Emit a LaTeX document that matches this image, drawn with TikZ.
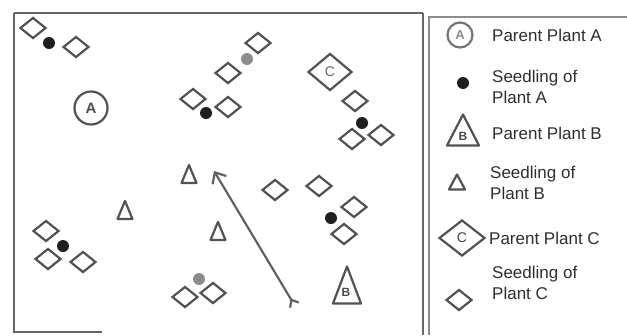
\documentclass[tikz,border=0pt]{standalone}
\usepackage{fontspec}
\setmainfont{Liberation Sans}
\usetikzlibrary{shapes.geometric,arrows.meta,calc}
\newcommand{\tri}[5]{% name, x, y, width, height
  \coordinate (#1) at (#2,#3);
  \draw[ink, line join=round] ($(#1)+(0,-#5/2)$) -- ($(#1)+(#4/2,#5/2)$) -- ($(#1)+(-#4/2,#5/2)$) -- cycle;}
\begin{document}
\begin{tikzpicture}[x=1pt,y=-1pt,
  ink/.style={draw=black!68, line width=2.2pt},
  frame/.style={draw=black!60, line width=1.8pt},
  seed/.style={diamond, ink, minimum width=26pt, minimum height=21pt, inner sep=0pt},
  parentC/.style={diamond, ink, minimum width=44pt, minimum height=37pt, inner sep=0pt,
    font=\fontsize{14}{14}\selectfont, text=black!60},
  parentA/.style={circle, ink, minimum size=33pt, inner sep=0pt,
    font=\fontsize{15}{15}\selectfont\bfseries, text=black!70},
  dotA/.style={circle, fill=black!88, minimum size=12pt, inner sep=0pt},
  dotG/.style={circle, fill=black!45, minimum size=12pt, inner sep=0pt},
  lab/.style={anchor=west, align=left, text=black!82, font=\fontsize{17}{20.5}\selectfont, inner sep=0pt},
  letter/.style={font=\fontsize{12}{12}\selectfont\bfseries, text=black!70, inner sep=0pt}
]
\useasboundingbox (0,0) rectangle (627,335);
% main field frame
\draw[frame] (14,13) -- (423,13);
\draw[frame] (14,13) -- (14,332) -- (102,332);
\draw[frame] (423,13) -- (423,335);
% legend frame
\draw[frame, draw=black!45] (429,335) -- (429,17) -- (627,17);

% ---- field ----
\node[seed] (s1) at (33,28) {};
\node[dotA] (d1) at (49,43) {};
\node[seed] (s2) at (76,47) {};
\node[parentA] (pA) at (91,108) {A};

\node[seed] (s3) at (258,43) {};
\node[dotG] (d2) at (247,59) {};
\node[seed] (s4) at (228,73) {};
\node[seed] (s5) at (193,99) {};
\node[dotA] (d3) at (206,113) {};
\node[seed] (s6) at (228,107) {};

\node[parentC] (pC) at (330,72) {C};
\node[seed] (s7) at (355,101) {};
\node[dotA] (d4) at (362,123) {};
\node[seed] (s8) at (352,139) {};
\node[seed] (s9) at (381,135) {};

\tri{t1}{189}{174}{15}{18}
\tri{t2}{125}{210}{15}{18}
\tri{t3}{218}{231}{15}{18}

\node[seed] (s10) at (275,190) {};
\node[seed] (s11) at (319,186) {};
\node[seed] (s12) at (354,207) {};
\node[dotA] (d5) at (331,218) {};
\node[seed] (s13) at (344,234) {};

\node[seed] (s14) at (46,231) {};
\node[dotA] (d6) at (63,246) {};
\node[seed] (s15) at (48,259) {};
\node[seed] (s16) at (83,262) {};

\node[dotG] (d7) at (199,279) {};
\node[seed] (s17) at (185,297) {};
\node[seed] (s18) at (213,293) {};

\tri{pB}{347}{285}{28}{37}
\node[letter] (pBl) at (346,292) {B};

\coordinate (arrTail) at (295,306);
\coordinate (arrHead) at (214,171);
\draw[ink, draw=black!62, {Straight Barb[reversed,length=6pt,width=10pt]}-{Straight Barb[length=9pt,width=16pt]}] (arrTail) -- (arrHead);

% ---- legend ----
\node[parentA, minimum size=25pt, draw=black!55, text=black!45, font=\fontsize{13}{13}\selectfont\bfseries] (LA) at (460,35) {A};
\node[lab] (LAt) at (492,35) {Parent Plant A};
\node[dotA] (Ld) at (463,83) {};
\node[lab] (Ldt) at (492,87) {Seedling of\\Plant A};
\tri{LB}{463}{130}{32}{31}
\node[letter] (LBl) at (463,136) {B};
\node[lab] (LBt) at (492,133) {Parent Plant B};
\tri{Lt}{457}{182}{16}{15}
\node[lab] (Ltt) at (490,183) {Seedling of\\Plant B};
\node[parentC, minimum width=46pt, minimum height=36pt, text=black!75] (LC) at (462,238) {C};
\node[lab] (LCt) at (489,238) {Parent Plant C};
\node[seed] (Ls) at (459,300) {};
\node[lab] (Lst) at (492,283) {Seedling of\\Plant C};
\end{tikzpicture}
\end{document}
